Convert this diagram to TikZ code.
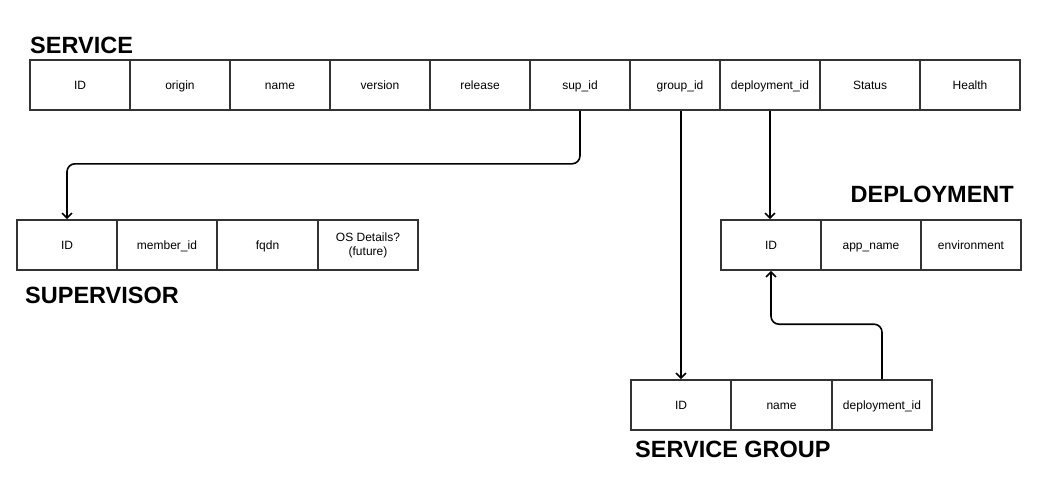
\documentclass[tikz,border=0pt]{standalone}
\usepackage{fontspec}
\setmainfont{Liberation Sans}
\usetikzlibrary{arrows.meta}
\definecolor{cellline}{HTML}{333333}
\tikzset{
  cellbox/.style={draw=cellline, line width=1.6pt, minimum height=50pt, inner sep=0pt,
    font=\fontsize{12}{14}\selectfont, align=center, text=black},
  cell/.style={cellbox, text height=10.5pt, text depth=2pt},
  title/.style={inner sep=0pt, font=\fontsize{23.5}{26}\selectfont\bfseries},
  link/.style={draw=black, line width=1.6pt, rounded corners=8pt,
    -{Straight Barb[length=5pt,width=10pt,line width=1.6pt]}},
}
\begin{document}
\begin{tikzpicture}[x=1pt,y=-1pt]
\useasboundingbox (0,0) rectangle (1041,482);

% SERVICE table
\node[title, anchor=base west] (tsvc) at (30,53) {SERVICE};
\node[cell, minimum width=100pt] (s1) at (80,85) {ID};
\node[cell, minimum width=100pt] (s2) at (180,85) {origin};
\node[cell, minimum width=100pt] (s3) at (280,85) {name};
\node[cell, minimum width=100pt] (s4) at (380,85) {version};
\node[cell, minimum width=100pt] (s5) at (480,85) {release};
\node[cell, minimum width=100pt] (ssup) at (580,85) {sup\_id};
\node[cell, minimum width=90pt] (sgrp) at (675,85) {\hspace*{10pt}group\_id};
\node[cell, minimum width=100pt] (sdep) at (770,85) {deployment\_id};
\node[cell, minimum width=100pt] (s9) at (870,85) {Status};
\node[cell, minimum width=100pt] (s10) at (970,85) {Health};

% SUPERVISOR table
\node[cell, minimum width=100pt] (pid) at (67,245) {ID};
\node[cell, minimum width=100pt] (p2) at (167,245) {member\_id};
\node[cell, minimum width=101pt] (p3) at (267.5,245) {fqdn};
\node[cellbox, minimum width=100pt] (p4) at (368,245) {OS Details?\\(future)};
\node[title, anchor=base west] (tsup) at (25,303) {SUPERVISOR};

% DEPLOYMENT table
\node[title, anchor=base east] (tdep) at (1014,202) {DEPLOYMENT};
\node[cell, minimum width=100pt] (did) at (771,245) {ID};
\node[cell, minimum width=100pt] (d2) at (871,245) {app\_name};
\node[cell, minimum width=100pt] (d3) at (971,245) {environment};

% SERVICE GROUP table
\node[cell, minimum width=100pt] (gid) at (681,405) {ID};
\node[cell, minimum width=101pt] (g2) at (781.5,405) {name};
\node[cell, minimum width=100pt] (gdep) at (882,405) {deployment\_id};
\node[title, anchor=base west] (tgrp) at (635,457) {SERVICE GROUP};

% references
\draw[link] (ssup.south) -- ++(0,53) -| (pid.north);
\draw[link] (gid.north |- sgrp.south) -- (gid.north);
\draw[link] (sdep.south) -- (sdep.south |- did.north);
\draw[link] (gdep.north) -- ++(0,-55) -| (did.south);
\end{tikzpicture}
\end{document}
